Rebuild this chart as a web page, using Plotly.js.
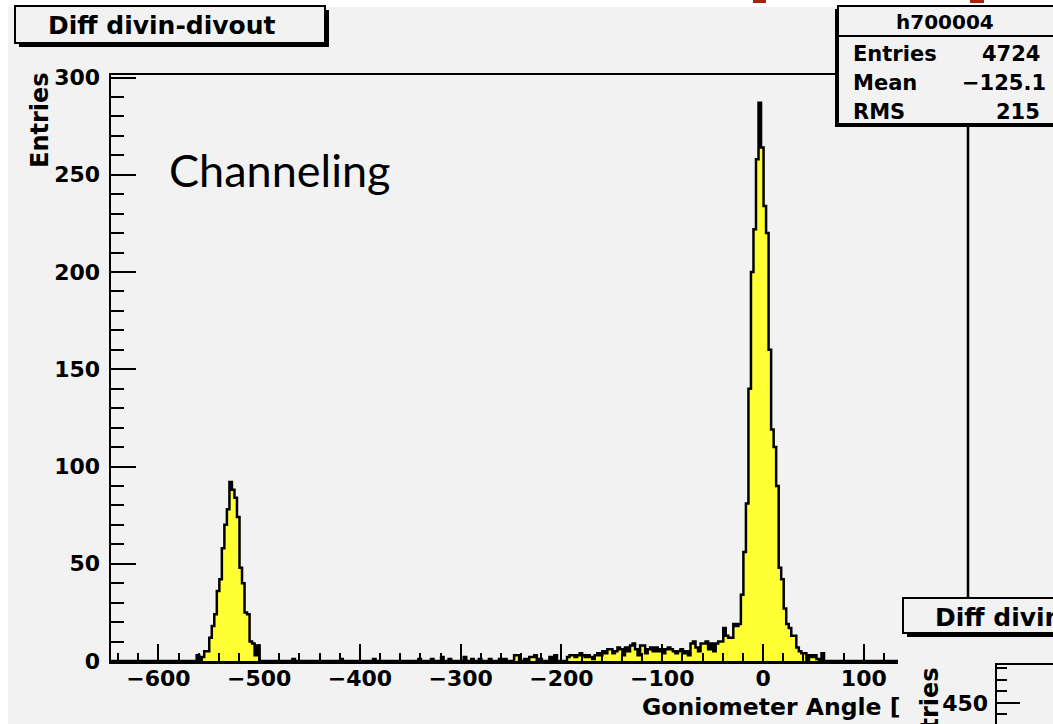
<!DOCTYPE html>
<html><head><meta charset="utf-8">
<script src="https://cdn.plot.ly/plotly-3.0.1.min.js"></script>
<style>html,body{margin:0;padding:0;background:#fff;}#chart{width:1053px;height:724px;}</style>
</head><body><div id="chart"></div>
<script>
// ---------------- data ----------------
const binWidth = 2.5;
const firstEdge = -652;
const nBins = 344;

// side peak near -530
const peakAStart = -562;
const peakACounts = [3,0,2,5,5,12,18,24,36,42,58,70,78,92,88,84,74,48,40,25,24,10,9,3,8];

// isolated low bins
const noiseEdges  = [-467,-419.5,-387,-342,-329.5,-319.5,-312,-297,-289.5,-282,-272,-262,-257,-247,-244.5,-237,-232,-229.5,-227,-222,-212,-207];
const noiseCounts = [1,1,1,1,1,2,1,2,1,1,1,1,1,3,3,1,2,2,3,1,2,3];

// background plateau before the main peak
const bgStart = -194.5;
const bgCounts = [2,3,3,2,3,4,3,2,3,2,1,3,4,3,5,4,6,6,4,5,7,6,3,7,5,8,9,6,3,8,8,4,6,7,5,7,5,6,4,6,7,6,5,4,5,6,4,5,3,9,10,7,5,9,9,10,6,9,5];

// main peak near 0
const peakBStart = -47;
const peakBCounts = [9,10,10,17,13,12,12,19,18,19,34,56,81,140,200,222,258,287,264,234,220,160,119,110,90,48,42,27,19,17,13,13,7,5,4,4,0,3,2,3,1,0,4];

const histTitle = 'Diff divin-divout';
const histName = 'h700004';
const statsLabels = ['Entries', 'Mean', 'RMS'];
const statsValues = ['4724', '\u2212125.1', '215'];
const xTitle = 'Goniometer Angle [';
const yTitle = 'Entries';
const note = 'Channeling';

// ---------------- build histogram ----------------
const counts = new Array(nBins).fill(0);
function put(edge, c) {
  const k = Math.round((edge - firstEdge) / binWidth);
  if (k >= 0 && k < nBins) counts[k] = c;
}
peakACounts.forEach((c, i) => put(peakAStart + i * binWidth, c));
noiseEdges.forEach((e, i) => put(e, noiseCounts[i]));
bgCounts.forEach((c, i) => put(bgStart + i * binWidth, c));
peakBCounts.forEach((c, i) => put(peakBStart + i * binWidth, c));

const xs = [], ys = [];
for (let k = 0; k < nBins; k++) { xs.push(firstEdge + k * binWidth); ys.push(counts[k]); }
xs.push(firstEdge + nBins * binWidth); ys.push(0);

// ---------------- layout helpers ----------------
const W = 1053, H = 724;
const px = v => v / W;
const py = v => 1 - v / H;
const BG = '#f2f2f2';
const FB = {family: 'DejaVu Sans', weight: 'bold', color: '#000'};
const f = (size, extra) => Object.assign({}, FB, {size: size}, extra || {});

const traces = [
  {
    type: 'scatter', mode: 'lines', x: xs, y: ys,
    line: {shape: 'hv', color: '#000', width: 2.5},
    fill: 'tozeroy', fillcolor: '#ffff33',
    hoverinfo: 'skip', showlegend: false
  },
  {type: 'scatter', mode: 'markers', x: [], y: [], xaxis: 'x2', yaxis: 'y2', showlegend: false}
];

function rect(x0, y0, x1, y1, fill, lineW, layer) {
  return {type: 'rect', xref: 'paper', yref: 'paper', x0: px(x0), x1: px(x1), y0: py(y1), y1: py(y0),
          fillcolor: fill, line: {color: '#000', width: lineW || 0}, layer: layer || 'above'};
}
function hline(x0, x1, y, w) {
  return {type: 'line', xref: 'paper', yref: 'paper', x0: px(x0), x1: px(x1), y0: py(y), y1: py(y), line: {color: '#000', width: w}, layer: 'above'};
}
function vline(x, y0, y1, w) {
  return {type: 'line', xref: 'paper', yref: 'paper', x0: px(x), x1: px(x), y0: py(y0), y1: py(y1), line: {color: '#000', width: w}, layer: 'above'};
}

const shapes = [
  rect(0, 0, W, 7, '#ffffff', 0, 'below'),
  rect(0, 0, 8, H, '#ffffff', 0, 'below'),
  rect(753, 0, 766, 3, '#a8200f', 0, 'above'),
  rect(970, 0, 984, 3, '#a8200f', 0, 'above'),
  // right frame edge of main pad
  vline(968, 124, 598, 2.5),
  // title box
  rect(19, 10, 329, 47, '#000', 0),
  rect(15, 6, 325, 43, BG, 2),
  // stats box
  rect(835, 9, 1053, 127, '#000', 0),
  rect(838, 6, 1060, 124, BG, 2),
  hline(838, 1053, 36, 2),
  // second pad title box
  rect(907, 602, 1060, 637, '#000', 0),
  rect(903, 598, 1060, 633, BG, 2)
];

const ann = (text, x, y, xa, ya, font, extra) => Object.assign({
  text: text, xref: 'paper', yref: 'paper', x: px(x), y: py(y),
  xanchor: xa, yanchor: ya, showarrow: false, font: font
}, extra || {});

const statY = [54, 83, 112];
const statValX = [1042, 1048, 1042];
const annotations = [
  ann(histTitle, 46, 26, 'left', 'middle', f(25)),
  ann(histName, 945, 22, 'center', 'middle', f(20)),
  ann(note, 167, 170, 'left', 'middle', {family: 'Lato', size: 45, color: '#000'}),
  ann(yTitle, 40, 70, 'center', 'top', f(24), {textangle: -90}),
  ann(xTitle, 640, 707, 'left', 'middle', f(23.5)),
  ann(histTitle, 933, 617, 'left', 'middle', f(25)),
  ann(yTitle, 930, 665, 'center', 'top', f(24), {textangle: -90})
];
statsLabels.forEach((s, i) => annotations.push(ann(s, 851, statY[i], 'left', 'middle', f(21))));
statsValues.forEach((s, i) => annotations.push(ann(s, statValX[i], statY[i], 'right', 'middle', f(21))));

const layout = {
  width: W, height: H,
  margin: {l: 0, r: 0, t: 0, b: 0, pad: 0},
  paper_bgcolor: BG, plot_bgcolor: BG,
  showlegend: false, hovermode: false,
  xaxis: {
    domain: [px(111), px(898)], range: [-647, 133.9],
    showgrid: false, zeroline: false,
    showline: true, linecolor: '#000', linewidth: 2.5, mirror: true,
    ticks: 'inside', ticklen: 17, tickwidth: 2, tickcolor: '#000',
    dtick: 100, tick0: 0,
    minor: {dtick: 20, tick0: 0, ticks: 'inside', ticklen: 8, tickwidth: 2, tickcolor: '#000', showgrid: false},
    tickfont: f(22), ticklabelstandoff: -4
  },
  yaxis: {
    domain: [py(661), py(75)], range: [0, 301.3],
    showgrid: false, zeroline: false,
    showline: true, linecolor: '#000', linewidth: 2.5, mirror: false,
    ticks: 'inside', ticklen: 25, tickwidth: 2, tickcolor: '#000',
    dtick: 50, tick0: 0,
    minor: {dtick: 10, tick0: 0, ticks: 'inside', ticklen: 13, tickwidth: 2, tickcolor: '#000', showgrid: false},
    tickfont: f(22), ticklabelstandoff: 4
  },
  xaxis2: {
    domain: [px(997), 1], range: [0, 1], anchor: 'y2', side: 'top',
    showgrid: false, zeroline: false, showline: true, linecolor: '#000', linewidth: 2.5,
    ticks: '', showticklabels: false
  },
  yaxis2: {
    domain: [0, py(665)], range: [431.7, 483], anchor: 'x2',
    showgrid: false, zeroline: false, showline: true, linecolor: '#000', linewidth: 2.5,
    ticks: 'inside', ticklen: 23, tickwidth: 2, tickcolor: '#000', dtick: 50, tick0: 0,
    minor: {dtick: 10, tick0: 0, ticks: 'inside', ticklen: 10, tickwidth: 2, tickcolor: '#000', showgrid: false},
    tickfont: f(22), ticklabelstandoff: 2
  },
  shapes: shapes,
  annotations: annotations
};

Plotly.newPlot('chart', traces, layout, {staticPlot: true, displayModeBar: false});
</script>
</body></html>
